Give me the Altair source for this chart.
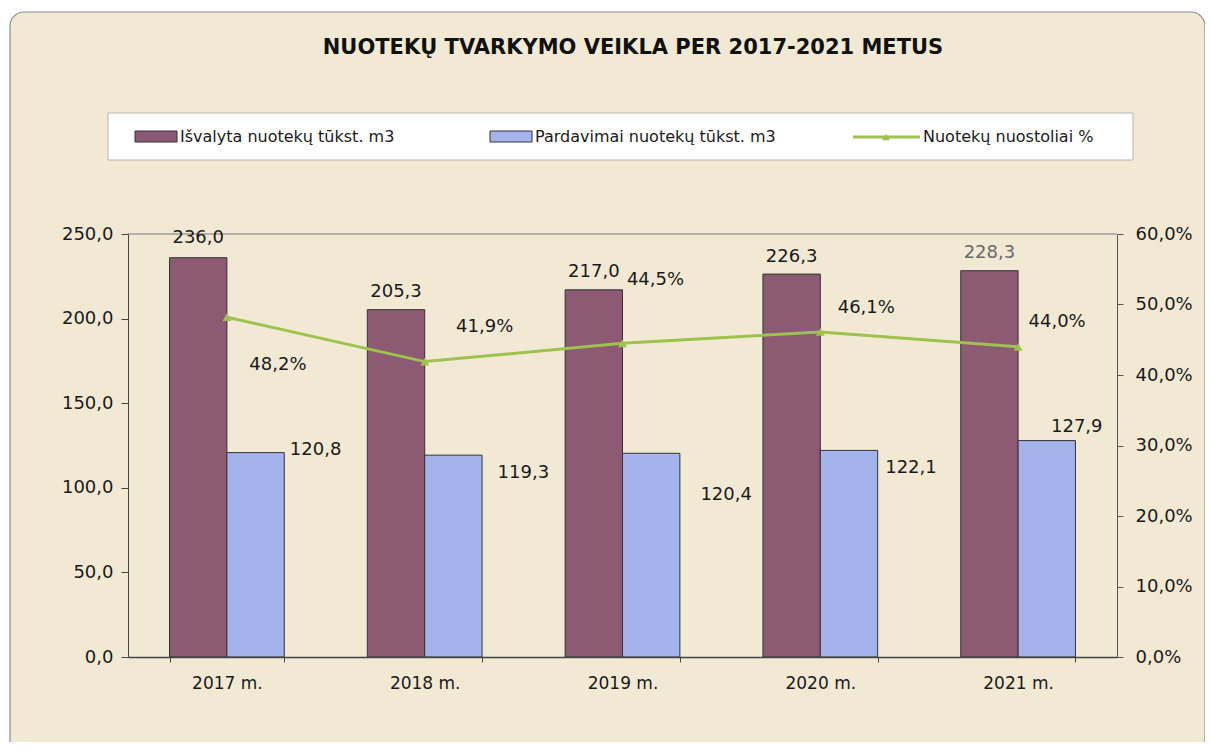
import altair as alt
import pandas as pd

# ---- data ----
years = ["2017 m.", "2018 m.", "2019 m.", "2020 m.", "2021 m."]
cleaned = [236.0, 205.3, 217.0, 226.3, 228.3]      # Išvalyta nuotekų tūkst. m3
sold = [120.8, 119.3, 120.4, 122.1, 127.9]         # Pardavimai nuotekų tūkst. m3
loss_pct = [48.2, 41.9, 44.5, 46.1, 44.0]          # Nuotekų nuostoliai %

series_names = ["Išvalyta nuotekų tūkst. m3", "Pardavimai nuotekų tūkst. m3"]
line_name = "Nuotekų nuostoliai  %"
title_text = "NUOTEKŲ TVARKYMO VEIKLA PER 2017-2021 METUS"

left_ticks = [0, 50, 100, 150, 200, 250]
right_ticks = [0, 10, 20, 30, 40, 50, 60]

# ---- label placement (styling) ----
cleaned_label_dy = [-20, -18, -18, -17, -18]
cleaned_label_color = ["#1a1a1a", "#1a1a1a", "#1a1a1a", "#1a1a1a", "#6a6a6a"]
sold_label_dx = [60, 70, 75, 62, 30]
sold_label_dy = [-3, 18, 42, 18, -14]
pct_label_dx = [51, 60, 33, 46, 39]
pct_label_dy = [48, -35, -63, -24, -25]

PURPLE = "#8C5A73"
BLUE = "#A5B3EC"
GREEN = "#9DC24E"
BEIGE = "#F2E9D4"
FONT = "DejaVu Sans"
TXT = "#1a1a1a"

def fmt(v, suffix=""):
    return f"{v:.1f}".replace(".", ",") + suffix

rows = []
for i, y in enumerate(years):
    rows.append({"year": y, "series": series_names[0], "value": cleaned[i], "label": fmt(cleaned[i])})
    rows.append({"year": y, "series": series_names[1], "value": sold[i], "label": fmt(sold[i])})
bars_df = pd.DataFrame(rows)
line_df = pd.DataFrame({"year": years, "pct": loss_pct, "label": [fmt(v, "%") for v in loss_pct]})

x_enc = alt.X("year:N", sort=years, title=None,
              scale=alt.Scale(paddingInner=0.42, paddingOuter=0.21),
              axis=alt.Axis(labelFont=FONT, labelFontSize=17, labelColor=TXT, labelAngle=0,
                            labelPadding=13, tickBand="extent", tickSize=5, tickColor="#444",
                            domainColor="#444", domainWidth=1.5, grid=False, zindex=2))
xoff_enc = alt.XOffset("series:N", sort=series_names, scale=alt.Scale(paddingInner=0, paddingOuter=0))
y_left = alt.Y("value:Q", title=None, scale=alt.Scale(domain=[0, 250], nice=False),
               axis=alt.Axis(values=left_ticks, labelExpr="replace(format(datum.value, '.1f'), '.', ',')",
                             labelFont=FONT, labelFontSize=18, labelColor=TXT, tickSize=7,
                             labelPadding=8, tickColor="#444", domainColor="#444", grid=False,
                             orient="left", zindex=2))
y_right = alt.Y("pct:Q", title=None, scale=alt.Scale(domain=[0, 60], nice=False),
                axis=alt.Axis(values=right_ticks,
                              labelExpr="replace(format(datum.value, '.1f'), '.', ',') + '%'",
                              labelFont=FONT, labelFontSize=18, labelColor=TXT, tickSize=6,
                              labelPadding=12, tickColor="#555", domainColor="#555", grid=False,
                              orient="right", zindex=2))

base_bars = alt.Chart(bars_df)
bars = base_bars.mark_bar(stroke="#333", strokeWidth=1).encode(
    x=x_enc, xOffset=xoff_enc, y=y_left,
    color=alt.Color("series:N", scale=alt.Scale(domain=series_names, range=[PURPLE, BLUE]), legend=None),
)

bar_texts = []
for i, yr in enumerate(years):
    bar_texts.append(
        base_bars.transform_filter(
            (alt.datum.year == yr) & (alt.datum.series == series_names[0])
        ).mark_text(font=FONT, fontSize=18, color=cleaned_label_color[i], baseline="middle",
                    dy=cleaned_label_dy[i]).encode(x=x_enc, xOffset=xoff_enc, y=y_left, text="label:N")
    )
    bar_texts.append(
        base_bars.transform_filter(
            (alt.datum.year == yr) & (alt.datum.series == series_names[1])
        ).mark_text(font=FONT, fontSize=18, color=TXT, baseline="middle",
                    dx=sold_label_dx[i], dy=sold_label_dy[i]).encode(x=x_enc, xOffset=xoff_enc, y=y_left, text="label:N")
    )

left = alt.layer(bars, *bar_texts)

base_line = alt.Chart(line_df)
line = base_line.mark_line(color=GREEN, strokeWidth=3).encode(x=x_enc, y=y_right)
pts = base_line.mark_point(shape="triangle-up", filled=True, size=80, color=GREEN, opacity=1).encode(x=x_enc, y=y_right)
pct_texts = []
for i, yr in enumerate(years):
    pct_texts.append(
        base_line.transform_filter(alt.datum.year == yr).mark_text(
            font=FONT, fontSize=18, color=TXT, baseline="middle",
            dx=pct_label_dx[i], dy=pct_label_dy[i]).encode(x=x_enc, y=y_right, text="label:N")
    )
right = alt.layer(line, pts, *pct_texts)

# ---- frame, title and legend (decoration) ----
one = alt.Chart(pd.DataFrame({"k": [1]}))
frame = one.mark_rect(fill=BEIGE, stroke="#8a8a8a", strokeWidth=1.2, cornerRadius=14).encode(
    x=alt.value(-118), x2=alt.value(1077), y=alt.value(-222), y2=alt.value(520))
top_border = one.mark_rule(color="#777", strokeWidth=1.2).encode(
    x=alt.value(0), x2=alt.value(989), y=alt.value(0))
title = one.mark_text(font=FONT, fontSize=21, fontWeight="bold", color="#111", align="center",
                      baseline="alphabetic").encode(x=alt.value(505), y=alt.value(-180), text=alt.value(title_text))
leg_box = one.mark_rect(fill="white", stroke="#b5b5b5", strokeWidth=1).encode(
    x=alt.value(-20), x2=alt.value(1005), y=alt.value(-121), y2=alt.value(-74))
sw1 = one.mark_rect(fill=PURPLE, stroke="#333", strokeWidth=1).encode(
    x=alt.value(7), x2=alt.value(49), y=alt.value(-103), y2=alt.value(-92))
sw2 = one.mark_rect(fill=BLUE, stroke="#333", strokeWidth=1).encode(
    x=alt.value(362), x2=alt.value(404), y=alt.value(-103), y2=alt.value(-92))
sw3 = one.mark_rule(color=GREEN, strokeWidth=3).encode(
    x=alt.value(725), x2=alt.value(792), y=alt.value(-97))
sw3p = one.mark_point(shape="triangle-up", filled=True, size=60, color=GREEN, opacity=1).encode(
    x=alt.value(758), y=alt.value(-97))
leg_txt = []
for xpos, txt in [(52, series_names[0]), (407, series_names[1]), (795, line_name)]:
    leg_txt.append(one.mark_text(font=FONT, fontSize=16, color=TXT, align="left", baseline="middle").encode(
        x=alt.value(xpos), y=alt.value(-97), text=alt.value(txt)))

chart = alt.layer(
    frame, top_border, title, leg_box, sw1, sw2, sw3, sw3p, *leg_txt, left, right
).resolve_scale(y="independent").properties(
    width=989, height=423,
    autosize=alt.AutoSizeParams(type="none"),
    padding={"left": 120, "top": 226, "right": 88, "bottom": 85},
    background="white",
).configure_view(stroke=None)

chart.save("out.html", embed_options={"renderer": "svg", "actions": False})
